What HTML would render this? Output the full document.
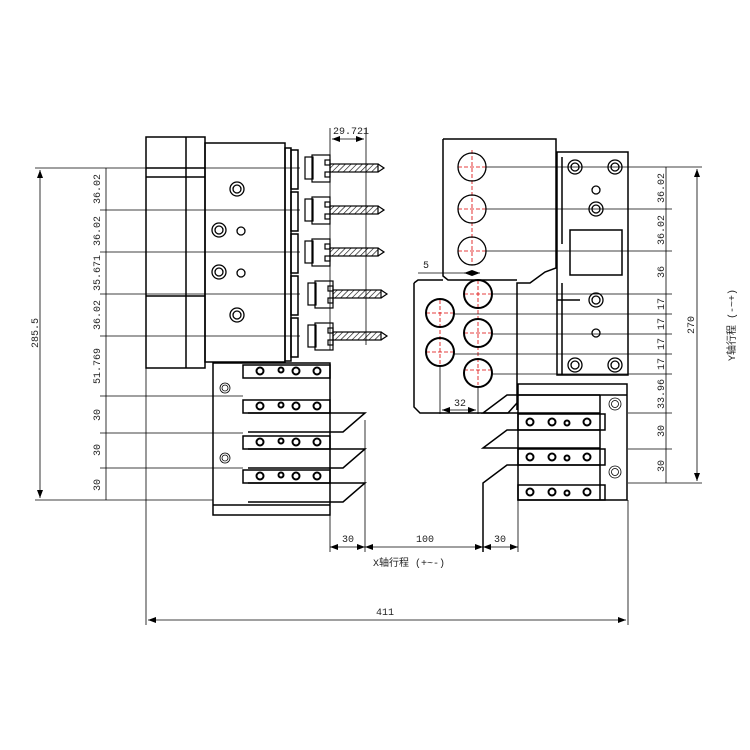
<!DOCTYPE html>
<html><head><meta charset="utf-8"><style>html,body{margin:0;padding:0;background:#fff}svg{display:block}</style></head><body>
<svg width="750" height="750" viewBox="0 0 750 750" xmlns="http://www.w3.org/2000/svg" font-family="Liberation Sans, Noto Sans CJK SC, sans-serif">
<defs>
<marker id="a" markerWidth="8" markerHeight="6" refX="8" refY="3" orient="auto-start-reverse" markerUnits="userSpaceOnUse"><path d="M0,0 L8,3 L0,6z" fill="#000"/></marker>
<pattern id="h" width="4" height="4" patternUnits="userSpaceOnUse" patternTransform="rotate(45)"><line x1="0" y1="0" x2="0" y2="4" stroke="#000" stroke-width="1.2"/></pattern>
</defs>
<g fill="none" stroke="#000" stroke-width="0.8">
<!-- left outer dim lines -->
<line x1="35" y1="168" x2="300" y2="168"/>
<line x1="35" y1="500" x2="213" y2="500"/>
<line x1="40" y1="170" x2="40" y2="498" marker-start="url(#a)" marker-end="url(#a)"/>
<line x1="106" y1="168" x2="106" y2="500"/>
<g stroke-width="0.8">
<line x1="100" y1="210" x2="300" y2="210"/><line x1="100" y1="252" x2="300" y2="252"/>
<line x1="100" y1="294" x2="300" y2="294"/><line x1="100" y1="336" x2="300" y2="336"/>
<line x1="100" y1="396" x2="243" y2="396"/><line x1="100" y1="433" x2="243" y2="433"/><line x1="100" y1="468" x2="243" y2="468"/>
</g>
<!-- left body -->
<g stroke-width="1.5">
<rect x="146" y="137" width="59" height="231"/>
<line x1="186" y1="137" x2="186" y2="368"/>
<line x1="146" y1="168" x2="205" y2="168"/><line x1="146" y1="177" x2="205" y2="177"/>
<line x1="146" y1="296" x2="205" y2="296"/>
<rect x="205" y="143" width="80" height="219"/>
<rect x="285" y="148" width="6" height="213"/>
<g>
<rect x="291" y="150" width="7" height="39"/><rect x="291" y="192" width="7" height="39"/><rect x="291" y="234" width="7" height="39"/><rect x="291" y="276" width="7" height="39"/><rect x="291" y="318" width="7" height="39"/>
</g>
</g>
<g stroke-width="1.3">
<circle cx="237" cy="189" r="7"/><circle cx="237" cy="189" r="4"/>
<circle cx="219" cy="230" r="7"/><circle cx="219" cy="230" r="4"/><circle cx="241" cy="231" r="4"/>
<circle cx="219" cy="272" r="7"/><circle cx="219" cy="272" r="4"/><circle cx="241" cy="273" r="4"/>
<circle cx="237" cy="315" r="7"/><circle cx="237" cy="315" r="4"/>
</g>
<!-- connectors + drills -->
<g stroke-width="1.2">
<g id="c1"><rect x="305" y="157" width="8" height="22"/><rect x="312" y="155" width="18" height="27"/><rect x="325" y="160" width="5" height="5"/><rect x="325" y="172" width="5" height="5"/><rect x="330" y="164" width="48" height="8" fill="url(#h)"/><path d="M378,164 L384,168 L378,172"/></g>
<use href="#c1" y="42"/><use href="#c1" y="84"/>
<g transform="translate(3,126)"><rect x="305" y="157" width="8" height="22"/><rect x="312" y="155" width="18" height="27"/><rect x="325" y="160" width="5" height="5"/><rect x="325" y="172" width="5" height="5"/><rect x="330" y="164" width="48" height="8" fill="url(#h)"/><path d="M378,164 L384,168 L378,172"/></g>
<g transform="translate(3,168)"><rect x="305" y="157" width="8" height="22"/><rect x="312" y="155" width="18" height="27"/><rect x="325" y="160" width="5" height="5"/><rect x="325" y="172" width="5" height="5"/><rect x="330" y="164" width="48" height="8" fill="url(#h)"/><path d="M378,164 L384,168 L378,172"/></g>
</g>
<line x1="330" y1="128" x2="330" y2="350"/><line x1="366" y1="128" x2="366" y2="345"/>
<line x1="332" y1="139" x2="364" y2="139" marker-start="url(#a)" marker-end="url(#a)"/>
<!-- left gripper -->
<g stroke-width="1.5">
<rect x="213" y="363" width="117" height="152"/>
<rect x="243" y="365" width="87" height="13"/><rect x="243" y="400" width="87" height="13"/><rect x="243" y="436" width="87" height="13"/><rect x="243" y="470" width="87" height="13"/>
<path d="M248,413 H365 L343,432 H248"/><path d="M248,449 H365 L343,468 H248"/><path d="M248,483 H365 L343,502 H248"/>
<line x1="213" y1="505" x2="330" y2="505"/>
</g>
<g stroke-width="2">
<circle cx="260" cy="371" r="3.5"/><circle cx="281" cy="370" r="2.5"/><circle cx="296" cy="371" r="3.5"/><circle cx="317" cy="371" r="3.5"/>
<circle cx="260" cy="406" r="3.5"/><circle cx="281" cy="405" r="2.5"/><circle cx="296" cy="406" r="3.5"/><circle cx="317" cy="406" r="3.5"/>
<circle cx="260" cy="442" r="3.5"/><circle cx="281" cy="441" r="2.5"/><circle cx="296" cy="442" r="3.5"/><circle cx="317" cy="442" r="3.5"/>
<circle cx="260" cy="476" r="3.5"/><circle cx="281" cy="475" r="2.5"/><circle cx="296" cy="476" r="3.5"/><circle cx="317" cy="476" r="3.5"/>
</g>
<circle cx="225" cy="388" r="5"/><circle cx="225" cy="388" r="3"/><circle cx="225" cy="458" r="5"/><circle cx="225" cy="458" r="3"/>
<line x1="365" y1="420" x2="365" y2="552"/><line x1="330" y1="505" x2="330" y2="552"/>
<!-- right top plate -->
<g stroke-width="1.5">
<path d="M443,139 H556 V268 L545,272 L530,283 H517 V410"/>
<path d="M443,139 V276 L448,280 H517"/>
<path d="M414,283 L418,280 H443"/>
<path d="M414,283 V407 L420,413 H508 L517,403"/>
<rect x="557" y="152" width="71" height="223"/>
<path d="M562,157 V244 M562,160"/>
<rect x="570" y="230" width="52" height="45"/>
<path d="M557,300 H580" />
<path d="M562,283 V375"/>
</g>
<g stroke="#d00" stroke-dasharray="4,2" stroke-width="0.8">
<line x1="472" y1="150" x2="472" y2="265"/>
<line x1="458" y1="167" x2="486" y2="167"/><line x1="458" y1="209" x2="486" y2="209"/><line x1="458" y1="251" x2="486" y2="251"/>
<line x1="478" y1="280" x2="478" y2="385"/><line x1="440" y1="300" x2="440" y2="365"/>
<line x1="464" y1="294" x2="492" y2="294"/><line x1="464" y1="333" x2="492" y2="333"/><line x1="464" y1="370" x2="492" y2="370"/>
<line x1="426" y1="313" x2="454" y2="313"/><line x1="426" y1="352" x2="454" y2="352"/>
</g>
<g stroke-width="1.3"><circle cx="472" cy="167" r="14"/><circle cx="472" cy="209" r="14"/><circle cx="472" cy="251" r="14"/></g>
<g stroke-width="2"><circle cx="478" cy="294" r="14"/><circle cx="478" cy="333" r="14"/><circle cx="478" cy="373" r="14"/><circle cx="440" cy="313" r="14"/><circle cx="440" cy="352" r="14"/></g>
<g stroke-width="1.3">
<circle cx="575" cy="167" r="7"/><circle cx="575" cy="167" r="4"/><circle cx="615" cy="167" r="7"/><circle cx="615" cy="167" r="4"/>
<circle cx="596" cy="190" r="4"/><circle cx="596" cy="209" r="7"/><circle cx="596" cy="209" r="4"/>
<circle cx="596" cy="300" r="7"/><circle cx="596" cy="300" r="4"/><circle cx="596" cy="333" r="4"/>
<circle cx="575" cy="365" r="7"/><circle cx="575" cy="365" r="4"/><circle cx="615" cy="365" r="7"/><circle cx="615" cy="365" r="4"/>
</g>
<!-- right dim lines -->
<line x1="486" y1="167" x2="702" y2="167"/><line x1="486" y1="209" x2="672" y2="209"/><line x1="486" y1="251" x2="672" y2="251"/>
<line x1="492" y1="294" x2="672" y2="294"/><line x1="454" y1="314" x2="672" y2="314"/><line x1="492" y1="334" x2="672" y2="334"/><line x1="454" y1="354" x2="672" y2="354"/><line x1="492" y1="374" x2="672" y2="374"/>
<line x1="628" y1="413" x2="672" y2="413"/><line x1="628" y1="449" x2="672" y2="449"/><line x1="628" y1="483" x2="702" y2="483"/>
<line x1="666" y1="167" x2="666" y2="483"/>
<line x1="697" y1="169" x2="697" y2="481" marker-start="url(#a)" marker-end="url(#a)"/>
<!-- right gripper -->
<g stroke-width="1.5">
<rect x="518" y="384" width="109" height="116"/>
<line x1="518" y1="395" x2="627" y2="395"/>
<rect x="518" y="414" width="87" height="16"/><rect x="518" y="449" width="87" height="16"/><rect x="518" y="485" width="87" height="15"/>
<path d="M600,395 H507 L483,413 H600"/><path d="M600,430 H507 L483,448 H600"/><path d="M600,465 H507 L483,483 V552"/>
<line x1="600" y1="395" x2="600" y2="500"/>
</g>
<g stroke-width="2">
<circle cx="530" cy="422" r="3.5"/><circle cx="552" cy="422" r="3.5"/><circle cx="567" cy="423" r="2.5"/><circle cx="587" cy="422" r="3.5"/>
<circle cx="530" cy="457" r="3.5"/><circle cx="552" cy="457" r="3.5"/><circle cx="567" cy="458" r="2.5"/><circle cx="587" cy="457" r="3.5"/>
<circle cx="530" cy="492" r="3.5"/><circle cx="552" cy="492" r="3.5"/><circle cx="567" cy="493" r="2.5"/><circle cx="587" cy="492" r="3.5"/>
</g>
<circle cx="615" cy="404" r="6"/><circle cx="615" cy="404" r="3.5"/><circle cx="615" cy="472" r="6"/><circle cx="615" cy="472" r="3.5"/>
<line x1="518" y1="500" x2="518" y2="552"/>
<!-- small dims 5 / 32 -->
<line x1="418" y1="273" x2="466" y2="273"/><line x1="464" y1="273" x2="480" y2="273" marker-start="url(#a)" marker-end="url(#a)"/>
<line x1="440" y1="365" x2="440" y2="414"/><line x1="478" y1="388" x2="478" y2="414"/>
<line x1="442" y1="410" x2="476" y2="410" marker-start="url(#a)" marker-end="url(#a)"/>
<!-- bottom dims -->
<line x1="330" y1="547" x2="365" y2="547" marker-start="url(#a)" marker-end="url(#a)"/>
<line x1="365" y1="547" x2="483" y2="547" marker-start="url(#a)" marker-end="url(#a)"/>
<line x1="483" y1="547" x2="518" y2="547" marker-start="url(#a)" marker-end="url(#a)"/>
<line x1="146" y1="368" x2="146" y2="625"/><line x1="628" y1="500" x2="628" y2="625"/>
<line x1="148" y1="620" x2="626" y2="620" marker-start="url(#a)" marker-end="url(#a)"/>
</g>
<g font-size="10" fill="#222" font-family="Liberation Mono, monospace">
<text x="333" y="134">29.721</text>
<text x="423" y="268">5</text>
<text x="454" y="406">32</text>
<text x="342" y="542">30</text><text x="416" y="542">100</text><text x="494" y="542">30</text>
<text x="373" y="566" font-family="Liberation Mono, Noto Sans CJK SC, monospace">X轴行程 (+~-)</text>
<text x="376" y="615">411</text>
<g text-anchor="middle">
<text transform="translate(38,333) rotate(-90)">285.5</text>
<text transform="translate(100,189) rotate(-90)">36.02</text>
<text transform="translate(100,231) rotate(-90)">36.02</text>
<text transform="translate(100,273) rotate(-90)">35.671</text>
<text transform="translate(100,315) rotate(-90)">36.02</text>
<text transform="translate(100,366) rotate(-90)">51.769</text>
<text transform="translate(100,415) rotate(-90)">30</text>
<text transform="translate(100,450) rotate(-90)">30</text>
<text transform="translate(100,485) rotate(-90)">30</text>
<text transform="translate(664,188) rotate(-90)">36.02</text>
<text transform="translate(664,230) rotate(-90)">36.02</text>
<text transform="translate(664,272) rotate(-90)">36</text>
<text transform="translate(664,304) rotate(-90)">17</text>
<text transform="translate(664,324) rotate(-90)">17</text>
<text transform="translate(664,344) rotate(-90)">17</text>
<text transform="translate(664,364) rotate(-90)">17</text>
<text transform="translate(664,394) rotate(-90)">33.96</text>
<text transform="translate(664,431) rotate(-90)">30</text>
<text transform="translate(664,466) rotate(-90)">30</text>
<text transform="translate(694,325) rotate(-90)">270</text>
<text transform="translate(735,325) rotate(-90)" font-family="Liberation Mono, Noto Sans CJK SC, monospace">Y轴行程 (-~+)</text>
</g>
</g>
</svg>
</body></html>
